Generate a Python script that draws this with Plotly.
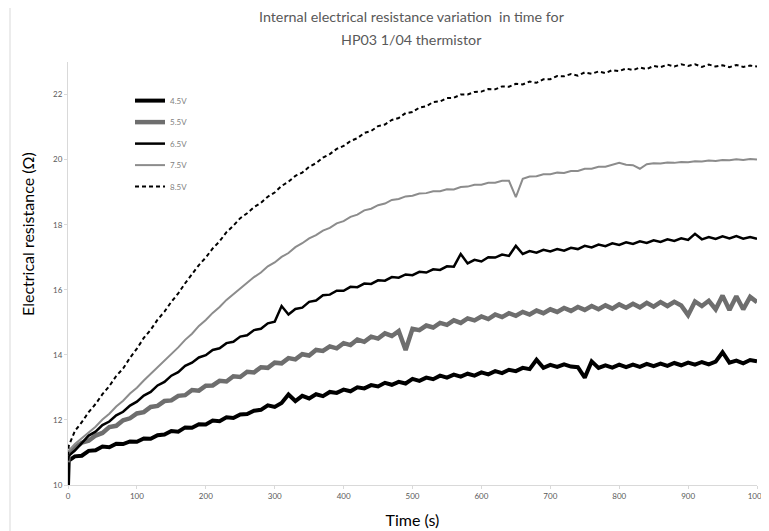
import plotly.graph_objects as go

time_s = [0, 1, 10, 20, 30, 40, 50, 60, 70, 80, 90,
          100, 110, 120, 130, 140, 150, 160, 170, 180, 190,
          200, 210, 220, 230, 240, 250, 260, 270, 280, 290,
          300, 310, 320, 330, 340, 350, 360, 370, 380, 390,
          400, 410, 420, 430, 440, 450, 460, 470, 480, 490,
          500, 510, 520, 530, 540, 550, 560, 570, 580, 590,
          600, 610, 620, 630, 640, 650, 660, 670, 680, 690,
          700, 710, 720, 730, 740, 750, 760, 770, 780, 790,
          800, 810, 820, 830, 840, 850, 860, 870, 880, 890,
          900, 910, 920, 930, 940, 950, 960, 970, 980, 990, 1000]

r_45V = [10.0, 10.75, 10.88, 10.9, 11.05, 11.07, 11.18, 11.16, 11.27, 11.26, 11.34,
         11.33, 11.43, 11.42, 11.53, 11.55, 11.66, 11.64, 11.77, 11.76, 11.87,
         11.86, 11.98, 11.96, 12.08, 12.06, 12.17, 12.18, 12.28, 12.31, 12.45,
         12.4, 12.52, 12.78, 12.58, 12.74, 12.66, 12.79, 12.73, 12.86, 12.83,
         12.93, 12.88, 13.0, 12.97, 13.07, 13.03, 13.14, 13.08, 13.17, 13.12,
         13.26, 13.2, 13.3, 13.25, 13.36, 13.3, 13.39, 13.33, 13.42, 13.36,
         13.46, 13.4, 13.5, 13.44, 13.54, 13.5, 13.6, 13.56, 13.85, 13.6,
         13.69, 13.63, 13.71, 13.64, 13.62, 13.3, 13.8, 13.6, 13.68, 13.61,
         13.7, 13.62, 13.7, 13.63, 13.72, 13.65, 13.73, 13.66, 13.75, 13.68,
         13.76, 13.7, 13.78, 13.71, 13.79, 14.08, 13.76, 13.82, 13.74, 13.84, 13.8]

r_55V = [10.7, 10.95, 11.15, 11.3, 11.36, 11.52, 11.6, 11.78, 11.82, 11.99, 12.05,
         12.2, 12.24, 12.4, 12.43, 12.58, 12.6, 12.74, 12.76, 12.92, 12.9,
         13.05, 13.06, 13.2, 13.18, 13.34, 13.32, 13.48, 13.46, 13.62, 13.6,
         13.76, 13.74, 13.9, 13.86, 14.02, 13.98, 14.15, 14.12, 14.26, 14.2,
         14.36, 14.3, 14.47, 14.4, 14.56, 14.5, 14.66, 14.58, 14.73, 14.15,
         14.8, 14.76, 14.9, 14.84, 14.98, 14.92, 15.06, 14.98, 15.12, 15.06,
         15.18, 15.1, 15.24, 15.16, 15.28, 15.2, 15.32, 15.24, 15.36, 15.28,
         15.4, 15.32, 15.44, 15.35, 15.47, 15.38, 15.5, 15.4, 15.52, 15.42,
         15.55, 15.45, 15.57, 15.46, 15.6, 15.48, 15.62, 15.5, 15.63, 15.52,
         15.22, 15.64, 15.5, 15.66, 15.4, 15.82, 15.38, 15.8, 15.4, 15.78, 15.62]

r_65V = [10.75, 10.9, 11.06, 11.28, 11.52, 11.64, 11.84, 11.95, 12.14, 12.25, 12.44,
         12.56, 12.75, 12.86, 13.06, 13.17, 13.36, 13.47, 13.66, 13.76, 13.92,
         13.99, 14.15, 14.2, 14.36, 14.4, 14.56, 14.6, 14.76, 14.8, 14.97,
         15.02, 15.5, 15.24, 15.41, 15.45, 15.63, 15.67, 15.83, 15.85, 15.97,
         15.97, 16.09, 16.08, 16.19, 16.18, 16.29, 16.28, 16.39, 16.37, 16.47,
         16.45, 16.55, 16.53, 16.63, 16.61, 16.72, 16.71, 17.1, 16.81, 16.92,
         16.87, 17.0, 16.99, 17.08, 17.04, 17.35, 17.1, 17.19, 17.14, 17.23,
         17.18, 17.25, 17.2, 17.29, 17.25, 17.35, 17.3, 17.39, 17.34, 17.43,
         17.38, 17.46, 17.41, 17.49, 17.44, 17.52, 17.47, 17.55, 17.5, 17.58,
         17.53, 17.72, 17.55, 17.62, 17.56, 17.64, 17.58, 17.65, 17.57, 17.62, 17.57]

r_75V = [10.9, 11.05, 11.26, 11.44, 11.63, 11.79, 12.01, 12.19, 12.41, 12.59, 12.81,
         12.99, 13.21, 13.41, 13.63, 13.81, 14.04, 14.23, 14.46, 14.65, 14.89,
         15.07, 15.29, 15.47, 15.69, 15.86, 16.06, 16.21, 16.39, 16.53, 16.72,
         16.84, 17.01, 17.13, 17.31, 17.43, 17.58, 17.68, 17.82, 17.9, 18.04,
         18.11, 18.24, 18.31, 18.44, 18.49, 18.6, 18.65, 18.76, 18.79, 18.87,
         18.89, 18.96, 18.97, 19.03, 19.03, 19.09, 19.08, 19.16, 19.17, 19.23,
         19.23, 19.29, 19.29, 19.35, 19.35, 18.85, 19.41, 19.48, 19.49, 19.55,
         19.55, 19.6, 19.59, 19.65, 19.65, 19.72, 19.72, 19.78, 19.78, 19.83,
         19.9, 19.84, 19.83, 19.72, 19.86, 19.89, 19.88, 19.91, 19.9, 19.93,
         19.92, 19.95, 19.94, 19.97, 19.96, 19.99, 19.98, 20.01, 19.99, 20.02, 20.0]

r_85V = [10.9, 11.2, 11.66, 11.93, 12.24, 12.49, 12.79, 13.04, 13.35, 13.58, 13.91,
         14.19, 14.52, 14.77, 15.08, 15.33, 15.63, 15.89, 16.2, 16.47, 16.76,
         16.99, 17.27, 17.49, 17.77, 17.97, 18.2, 18.35, 18.54, 18.67, 18.86,
         18.99, 19.19, 19.32, 19.5, 19.6, 19.78, 19.89, 20.06, 20.17, 20.33,
         20.42, 20.57, 20.66, 20.82, 20.88, 21.03, 21.08, 21.22, 21.28, 21.43,
         21.46, 21.6, 21.64, 21.77, 21.79, 21.89, 21.9, 22.0, 22.0, 22.08,
         22.09, 22.17, 22.16, 22.25, 22.24, 22.33, 22.31, 22.4, 22.36, 22.47,
         22.47, 22.57, 22.56, 22.63, 22.58, 22.68, 22.64, 22.71, 22.66, 22.75,
         22.72, 22.8, 22.75, 22.83, 22.78, 22.88, 22.84, 22.92, 22.86, 22.93,
         22.88, 22.93, 22.85, 22.92, 22.86, 22.9, 22.84, 22.91, 22.85, 22.89, 22.86]

series_names = ["4.5V", "5.5V", "6.5V", "7.5V", "8.5V"]
series_values = [r_45V, r_55V, r_65V, r_75V, r_85V]
series_colors = ["#000000", "#6e6e6e", "#000000", "#8c8c8c", "#000000"]
series_widths = [4, 4.5, 2.5, 2, 2]
series_dash = ["solid", "solid", "solid", "solid", "4px,3px"]

x_ticks = [0, 100, 200, 300, 400, 500, 600, 700, 800, 900, 1000]
y_ticks = [10, 12, 14, 16, 18, 20, 22]

title_line1 = "Internal electrical resistance variation  in time for"
title_line2 = "HP03 1/04 thermistor"
y_title = "Electrical resistance (Ω)"
x_title = "Time (s)"

fig = go.Figure()
for name, vals, col, w, d in zip(series_names, series_values, series_colors, series_widths, series_dash):
    fig.add_trace(go.Scatter(
        x=time_s, y=vals, mode="lines", name=name, legendgroup=name,
        line=dict(color=col, width=w, dash=d),
    ))

base_font = "Lato, 'Open Sans', sans-serif"
axis_font = dict(family=base_font, size=8, color="#595959")

# page body adds an 8px margin, so the figure is drawn 8px smaller
fig.update_layout(
    width=761, height=523,
    paper_bgcolor="white", plot_bgcolor="white",
    margin=dict(l=60, r=12, t=54, b=46),
    legend=dict(
        x=0.09, y=0.943, xanchor="left", yanchor="top",
        bgcolor="rgba(0,0,0,0)", font=dict(family=base_font, size=8, color="#7f7f7f"),
        tracegroupgap=2.5, itemwidth=30,
    ),
    showlegend=True,
)
fig.add_annotation(text=title_line1, xref="paper", yref="paper", x=0.499, y=1 + 45/423,
                   showarrow=False, xanchor="center", yanchor="middle",
                   font=dict(family=base_font, size=14.3, color="#595959"))
fig.add_annotation(text=title_line2, xref="paper", yref="paper", x=0.499, y=1 + 22/423,
                   showarrow=False, xanchor="center", yanchor="middle",
                   font=dict(family=base_font, size=14.3, color="#595959"))
fig.add_annotation(text=y_title, xref="paper", yref="paper", x=-41/689, y=251/423,
                   showarrow=False, xanchor="center", yanchor="middle", textangle=-90,
                   font=dict(family=base_font, size=16, color="#000000"))
fig.update_xaxes(
    range=[0, 1000], tickvals=x_ticks, ticks="outside", ticklen=3,
    tickcolor="#d9d9d9", showline=True, linecolor="#d9d9d9", linewidth=1,
    showgrid=False, zeroline=False, tickfont=axis_font, automargin=False,
    title=dict(text=x_title, font=dict(family=base_font, size=16, color="#000000"), standoff=15),
)
fig.update_yaxes(
    range=[10, 23], tickvals=y_ticks, ticks="outside", ticklen=3,
    tickcolor="#d9d9d9", showline=True, linecolor="#d9d9d9", linewidth=1,
    showgrid=False, zeroline=False, tickfont=axis_font, automargin=False,
)
# Excel-like chart frame
fig.add_shape(type="rect", xref="paper", yref="paper",
              x0=-58/689, x1=1.1, y0=-0.2, y1=1 + 55/423,
              line=dict(color="#d9d9d9", width=1), layer="below")

fig.write_html("out.html")
